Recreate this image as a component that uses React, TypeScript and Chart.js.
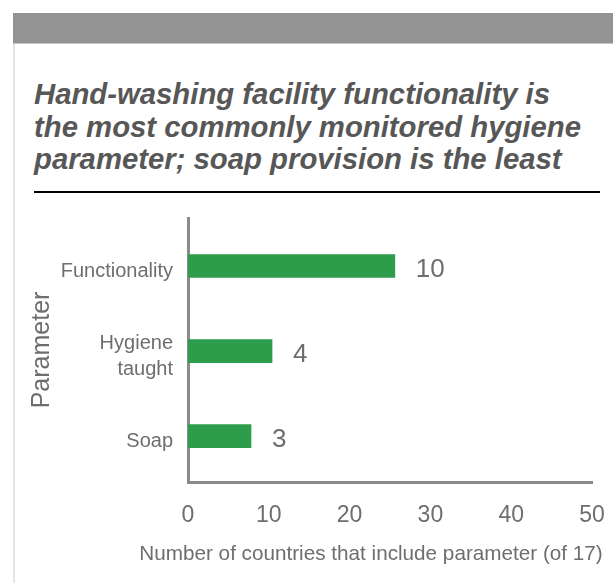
import { useEffect, useRef } from 'react';
import { Chart, registerables } from 'chart.js';

Chart.register(...registerables);

const categories: string[][] = [['Functionality'], ['Hygiene', 'taught'], ['Soap']];
const barLengths: number[] = [25.6, 10.4, 7.8];
const countLabels: string[] = ['10', '4', '3'];
const xTickValues: number[] = [0, 10, 20, 30, 40, 50];
const titleLines: string[] = [
  'Hand-washing facility functionality is',
  'the most commonly monitored hygiene',
  'parameter; soap provision is the least',
];
const xAxisTitle = 'Number of countries that include parameter (of 17)';
const yAxisTitle = 'Parameter';

const FONT = '"Liberation Sans", Arial, Helvetica, sans-serif';
const TEXT = '#6e6e6e';
const AXIS = '#8a8a8a';
const GREEN = '#2d9d4b';

const valueLabelPlugin = {
  id: 'valueLabels',
  afterDatasetsDraw(chart: any) {
    const ctx = chart.ctx;
    const meta = chart.getDatasetMeta(0);
    ctx.save();
    ctx.font = `26px ${FONT}`;
    ctx.fillStyle = TEXT;
    ctx.textAlign = 'left';
    ctx.textBaseline = 'middle';
    meta.data.forEach((bar: any, i: number) => {
      ctx.fillText(countLabels[i], bar.x + 21, bar.y + 4);
    });
    ctx.restore();
  },
};

export default function App() {
  const canvasRef = useRef<HTMLCanvasElement>(null);

  useEffect(() => {
    if (!canvasRef.current) return;
    const chart = new Chart(canvasRef.current, {
      type: 'bar',
      data: {
        datasets: [
          {
            data: barLengths.map((v, i) => ({ x: v, y: i })),
            backgroundColor: GREEN,
            borderWidth: 0,
            barThickness: 23,
          },
        ],
      },
      options: {
        indexAxis: 'y',
        animation: false,
        responsive: false,
        maintainAspectRatio: false,
        layout: { padding: { top: 18, right: 21, left: 0, bottom: 0 } },
        plugins: {
          legend: { display: false },
          tooltip: { enabled: false },
          title: { display: false },
        },
        scales: {
          x: {
            type: 'linear',
            min: 0,
            max: 50,
            afterBuildTicks: (scale: any) => {
              scale.ticks = xTickValues.map((v) => ({ value: v }));
            },
            afterFit: (scale: any) => {
              scale.height = 101;
              scale.paddingLeft = 0;
              scale.paddingRight = 0;
            },
            grid: { display: false, drawTicks: false },
            border: { display: true, color: AXIS, width: 3 },
            ticks: {
              padding: 20,
              color: TEXT,
              font: { family: FONT, size: 23 },
              maxRotation: 0,
            },
          },
          y: {
            type: 'linear',
            reverse: true,
            offset: false,
            min: -0.565,
            max: 2.54,
            afterBuildTicks: (scale: any) => {
              scale.ticks = categories.map((_, i) => ({ value: i }));
            },
            afterFit: (scale: any) => {
              scale.width = 175;
              scale.paddingTop = 0;
              scale.paddingBottom = 0;
            },
            grid: { display: false, drawTicks: false, offset: false },
            border: { display: true, color: AXIS, width: 3 },
            ticks: {
              padding: 15,
              labelOffset: 5,
              color: TEXT,
              font: { family: FONT, size: 20, lineHeight: 1.3 },
              callback: (v: any) => categories[Math.round(Number(v))],
            },
            title: {
              display: true,
              text: yAxisTitle,
              color: TEXT,
              font: { family: FONT, size: 25, lineHeight: 1.2 },
              padding: { top: 14, bottom: 0 },
            },
          },
        },
      },
      plugins: [valueLabelPlugin],
    });
    return () => chart.destroy();
  }, []);

  return (
    <div style={{ position: 'absolute', left: 0, top: 0, width: 613, height: 583, background: '#fff', overflow: 'hidden' }}>
      <div style={{ position: 'absolute', left: 13, top: 13, width: 600, height: 30, background: '#939393', borderBottom: '1px solid #c4c4c4' }} />
      <div style={{ position: 'absolute', left: 13, top: 44, width: 2, height: 539, background: '#e4e4e4' }} />
      <div
        style={{
          position: 'absolute',
          left: 34,
          top: 78,
          fontFamily: FONT,
          fontSize: 29.3,
          fontWeight: 'bold',
          fontStyle: 'italic',
          lineHeight: '32.5px',
          color: '#575757',
          whiteSpace: 'nowrap',
        }}
      >
        {titleLines.map((t, i) => (
          <div key={i}>{t}</div>
        ))}
      </div>
      <div style={{ position: 'absolute', left: 34, top: 191, width: 566, height: 2, background: '#000' }} />
      <canvas ref={canvasRef} width={600} height={383} style={{ position: 'absolute', left: 13, top: 200, width: 600, height: 383 }} />
      <div
        style={{
          position: 'absolute',
          left: 0,
          width: 742,
          top: 540,
          textAlign: 'center',
          fontFamily: FONT,
          fontSize: 20.7,
          lineHeight: '26px',
          color: TEXT,
          whiteSpace: 'nowrap',
        }}
      >
        {xAxisTitle}
      </div>
    </div>
  );
}
